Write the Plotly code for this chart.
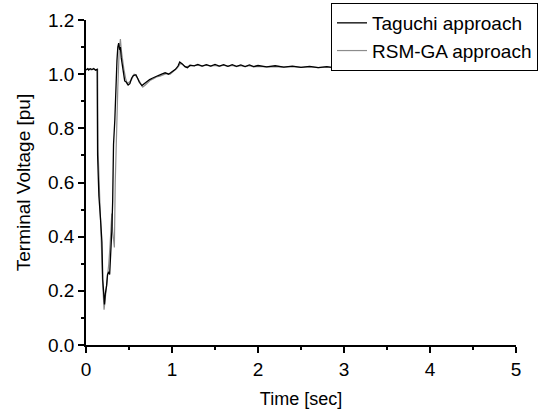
import plotly.graph_objects as go

# Taguchi approach
tag_t = [0.00, 0.02, 0.03, 0.05, 0.07, 0.09, 0.11, 0.13, 0.135, 0.15, 0.17, 0.185, 0.195, 0.205,
         0.215, 0.225, 0.24, 0.25, 0.265, 0.275, 0.285, 0.30, 0.31, 0.32, 0.335, 0.35, 0.36, 0.37,
         0.38, 0.39, 0.40, 0.41, 0.43, 0.45, 0.47, 0.49, 0.51, 0.53, 0.55, 0.58, 0.60, 0.62, 0.65,
         0.68, 0.71, 0.74, 0.77, 0.80, 0.84, 0.88, 0.92, 0.96, 1.00, 1.04, 1.07, 1.09, 1.12, 1.15,
         1.18, 1.21, 1.26, 1.30, 1.35, 1.40, 1.45, 1.50, 1.55, 1.60, 1.65, 1.70, 1.75, 1.80, 1.85,
         1.90, 1.95, 2.00, 2.10, 2.20, 2.30, 2.40, 2.50, 2.60, 2.70, 2.80, 2.90, 3.00, 3.10, 3.20,
         3.30, 3.40, 3.50, 3.60, 3.70, 3.80, 3.90, 4.00, 4.10, 4.20, 4.30, 4.40, 4.50, 4.60, 4.70,
         4.80, 4.90, 5.00]
tag_v = [1.015, 1.020, 1.015, 1.020, 1.017, 1.021, 1.015, 1.018, 0.70, 0.55, 0.46, 0.38, 0.24, 0.18,
         0.15, 0.19, 0.22, 0.26, 0.27, 0.26, 0.31, 0.42, 0.53, 0.74, 0.83, 0.99, 1.05, 1.10,
         1.115, 1.09, 1.10, 1.06, 1.02, 0.975, 0.97, 0.96, 0.965, 0.985, 0.995, 0.998, 0.985, 0.97, 0.958,
         0.965, 0.975, 0.980, 0.985, 0.990, 0.995, 1.000, 1.005, 1.000, 1.010, 1.018, 1.030, 1.045, 1.038, 1.028,
         1.024, 1.033, 1.031, 1.036, 1.030, 1.035, 1.030, 1.036, 1.030, 1.035, 1.029, 1.035, 1.029, 1.034, 1.028,
         1.034, 1.028, 1.032, 1.027, 1.031, 1.026, 1.030, 1.025, 1.029, 1.024, 1.028, 1.023, 1.027, 1.021, 1.026,
         1.020, 1.025, 1.019, 1.023, 1.018, 1.022, 1.017, 1.022, 1.016, 1.021, 1.015, 1.020, 1.015, 1.020, 1.014,
         1.019, 1.014, 1.018]

# RSM-GA approach
rsm_t = [0.00, 0.03, 0.06, 0.09, 0.12, 0.135, 0.14, 0.155, 0.17, 0.18, 0.19, 0.20, 0.21, 0.22,
         0.235, 0.25, 0.265, 0.28, 0.29, 0.30, 0.31, 0.32, 0.33, 0.34, 0.355, 0.37, 0.385, 0.40,
         0.41, 0.42, 0.44, 0.46, 0.48, 0.50, 0.53, 0.56, 0.59, 0.62, 0.66, 0.69, 0.72, 0.75, 0.78,
         0.82, 0.86, 0.90, 0.94, 0.98, 1.02, 1.06, 1.10, 1.13, 1.16, 1.20, 1.25, 1.30, 1.35, 1.40,
         1.45, 1.50, 1.55, 1.60, 1.65, 1.70, 1.75, 1.80, 1.85, 1.90, 1.95, 2.00, 2.10, 2.20, 2.30,
         2.40, 2.50, 2.60, 2.70, 2.80, 2.90, 3.00, 3.10, 3.20, 3.30, 3.40, 3.50, 3.60, 3.70, 3.80,
         3.90, 4.00, 4.10, 4.20, 4.30, 4.40, 4.50, 4.60, 4.70, 4.80, 4.90, 5.00]
rsm_v = [1.017, 1.020, 1.016, 1.019, 1.016, 1.017, 0.72, 0.60, 0.42, 0.36, 0.25, 0.19, 0.13, 0.16,
         0.20, 0.25, 0.30, 0.37, 0.43, 0.485, 0.42, 0.37, 0.36, 0.60, 0.80, 0.95, 1.08, 1.13,
         1.09, 1.06, 1.02, 0.985, 0.965, 0.97, 0.98, 1.000, 0.990, 0.975, 0.952, 0.960, 0.970, 0.978, 0.982,
         0.990, 0.993, 0.998, 1.003, 1.000, 1.012, 1.022, 1.040, 1.035, 1.027, 1.030, 1.032, 1.033, 1.030, 1.033,
         1.030, 1.032, 1.029, 1.033, 1.029, 1.032, 1.028, 1.031, 1.028, 1.031, 1.027, 1.029, 1.027, 1.028, 1.026,
         1.028, 1.025, 1.027, 1.024, 1.026, 1.023, 1.024, 1.022, 1.023, 1.021, 1.022, 1.020, 1.021, 1.019, 1.020,
         1.018, 1.019, 1.017, 1.018, 1.016, 1.018, 1.016, 1.017, 1.015, 1.017, 1.015, 1.016]

x_ticks = [0, 1, 2, 3, 4, 5]
y_ticks = [0.0, 0.2, 0.4, 0.6, 0.8, 1.0, 1.2]

fig = go.Figure()
fig.add_trace(go.Scatter(x=rsm_t, y=rsm_v, mode="lines", name="RSM-GA approach",
                         line=dict(color="#8c8c8c", width=1.2)))
fig.add_trace(go.Scatter(x=tag_t, y=tag_v, mode="lines", name="Taguchi approach",
                         line=dict(color="#000000", width=1.3)))

font = "Liberation Sans, Arial, sans-serif"
axis_common = dict(showline=True, linecolor="black", linewidth=1.5, ticks="outside",
                   ticklen=6, tickwidth=1.5, tickcolor="black", showgrid=False, zeroline=False,
                   mirror=False, tickfont=dict(family=font, size=19, color="black"))

fig.update_xaxes(range=[0, 5], tickvals=x_ticks, ticktext=[str(v) for v in x_ticks],
                 minor=dict(ticks="outside", ticklen=3, tickwidth=1.5, tickcolor="black", dtick=0.5),
                 title=dict(text="Time [sec]", font=dict(family=font, size=18, color="black"), standoff=14),
                 **axis_common)
fig.update_yaxes(range=[0, 1.2], tickvals=y_ticks, ticktext=[f"{v:.1f}" for v in y_ticks],
                 minor=dict(ticks="outside", ticklen=3, tickwidth=1.5, tickcolor="black", dtick=0.1),
                 title=dict(text="Terminal Voltage [pu]", font=dict(family=font, size=19, color="black"), standoff=12),
                 **axis_common)

fig.update_layout(
    width=538, height=413,
    margin=dict(l=86, r=22, t=20, b=68, autoexpand=False),
    plot_bgcolor="white", paper_bgcolor="white",
    showlegend=True,
    legend=dict(xref="container", yref="container", x=331 / 538, y=1 - 3 / 413,
                xanchor="left", yanchor="top", traceorder="reversed",
                bordercolor="black", borderwidth=1, bgcolor="white",
                font=dict(family=font, size=19, color="black"), tracegroupgap=0,
                itemwidth=30),
)

fig.write_html("out.html")
